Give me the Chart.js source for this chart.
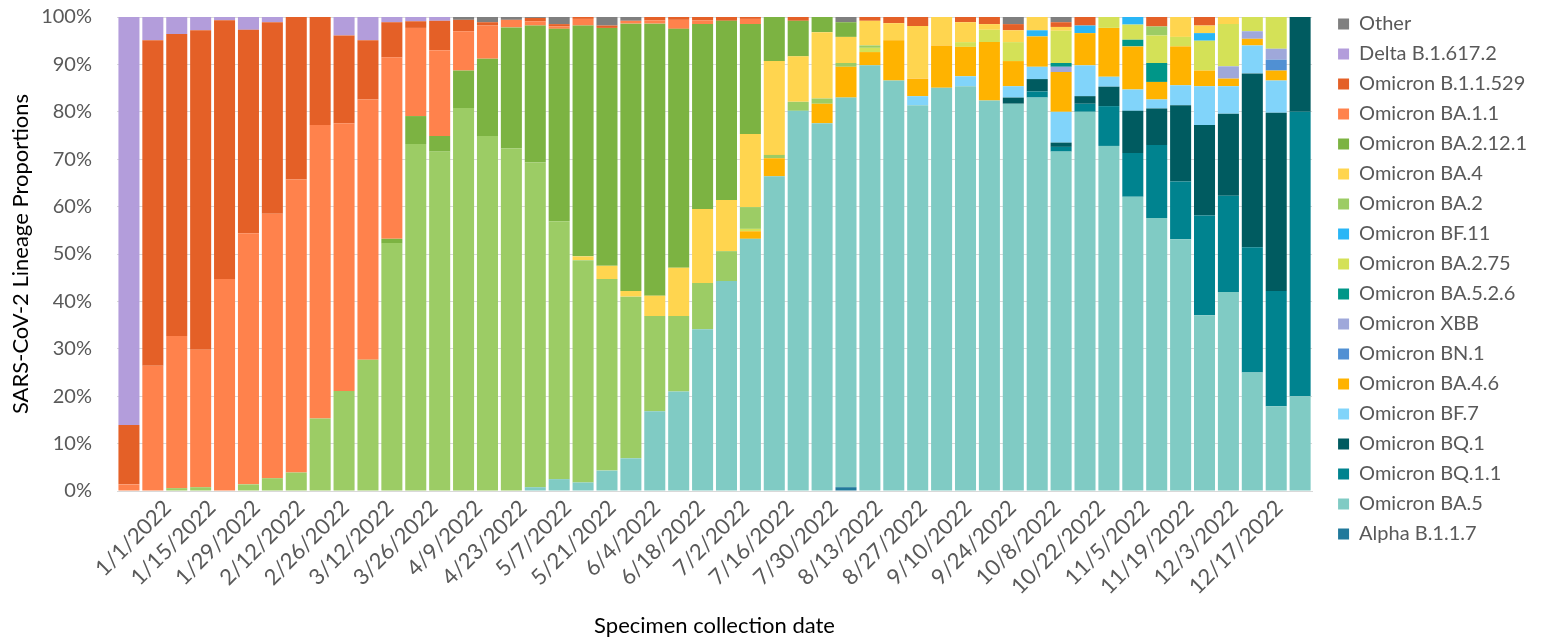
<!DOCTYPE html>
<html>
<head>
<meta charset="utf-8">
<script src="https://cdn.jsdelivr.net/npm/chart.js@4.4.1/dist/chart.umd.min.js"></script>
<style>
  html, body { margin: 0; padding: 0; background: #fff; }
  #wrap { position: relative; width: 1545px; height: 641px; }
</style>
</head>
<body>
<div id="wrap"><canvas id="lineageChart"></canvas></div>
<script>
// Weekly categories (one bar each)
const weeks = ['1/1/2022','1/8/2022','1/15/2022','1/22/2022','1/29/2022','2/5/2022','2/12/2022','2/19/2022','2/26/2022','3/5/2022',
  '3/12/2022','3/19/2022','3/26/2022','4/2/2022','4/9/2022','4/16/2022','4/23/2022','4/30/2022','5/7/2022','5/14/2022',
  '5/21/2022','5/28/2022','6/4/2022','6/11/2022','6/18/2022','6/25/2022','7/2/2022','7/9/2022','7/16/2022','7/23/2022',
  '7/30/2022','8/6/2022','8/13/2022','8/20/2022','8/27/2022','9/3/2022','9/10/2022','9/17/2022','9/24/2022','10/1/2022',
  '10/8/2022','10/15/2022','10/22/2022','10/29/2022','11/5/2022','11/12/2022','11/19/2022','11/26/2022','12/3/2022','12/10/2022'];

// Axis tick labels as printed under the chart
const tickLabels = ['1/1/2022','1/15/2022','1/29/2022','2/12/2022','2/26/2022','3/12/2022','3/26/2022','4/9/2022','4/23/2022',
  '5/7/2022','5/21/2022','6/4/2022','6/18/2022','7/2/2022','7/16/2022','7/30/2022','8/13/2022','8/27/2022','9/10/2022',
  '9/24/2022','10/8/2022','10/22/2022','11/5/2022','11/19/2022','12/3/2022','12/17/2022'];

// Lineage proportions (%), bottom of stack first
const alpha = [0,0,0,0,0,0,0,0,0,0, 0,0,0,0,0,0,0,0,0,0, 0,0,0,0,0,0,0,0,0,0, 0.8,0,0,0,0,0,0,0,0,0, 0,0,0,0,0,0,0,0,0,0];
const ba5 = [0,0,0,0,0,0,0,0,0,0, 0,0,0,0,0,0,0,0.8,2.5,1.8, 4.3,6.9,16.8,21.0,34.1,44.3,53.2,66.4,80.2,77.6,
  82.2,89.8,86.6,81.4,85.1,85.4,82.4,81.7,83.0,71.6, 80.0,72.8,62.1,57.6,53.1,37.1,42.0,25.0,17.9,20.0];
const bq11 = [0,0,0,0,0,0,0,0,0,0, 0,0,0,0,0,0,0,0,0,0, 0,0,0,0,0,0,0,0,0,0,
  0,0,0,0,0,0,0,0,1.3,1.0, 1.7,8.4,9.2,15.4,12.2,21.0,20.3,26.4,24.3,60.0];
const bq1 = [0,0,0,0,0,0,0,0,0,0, 0,0,0,0,0,0,0,0,0,0, 0,0,0,0,0,0,0,0,0,0,
  0,0,0,0,0,0,0,1.3,2.6,0.9, 1.6,4.1,8.9,7.7,16.1,19.1,17.3,36.7,37.6,20.0];
const bf7 = [0,0,0,0,0,0,0,0,0,0, 0,0,0,0,0,0,0,0,0,0, 0,0,0,0,0,0,0,0,0,0,
  0,0,0,1.9,0,2.1,0,2.4,2.6,6.5, 6.5,2.1,4.5,1.9,4.2,8.2,5.8,5.9,6.8,0];
const ba46 = [0,0,0,0,0,0,0,0,0,0, 0,0,0,0,0,0,0,0,0,0, 0,0,0,0,0,0,1.6,3.8,0,4.1,
  6.5,2.8,8.5,3.7,8.9,6.2,12.3,5.3,6.4,8.4, 6.8,10.3,9.1,3.7,8.2,3.3,1.6,1.4,2.1,0];
const bn1 = [0,0,0,0,0,0,0,0,0,0, 0,0,0,0,0,0,0,0,0,0, 0,0,0,0,0,0,0,0,0,0,
  0,0,0,0,0,0,0,0,0,0, 0,0,0,0,0,0,0,0,2.3,0];
const xbb = [0,0,0,0,0,0,0,0,0,0, 0,0,0,0,0,0,0,0,0,0, 0,0,0,0,0,0,0,0,0,0,
  0,0,0,0,0,0,0,0,0,1.1, 0,0,0,0,0,0,2.6,1.6,2.3,0];
const ba526 = [0,0,0,0,0,0,0,0,0,0, 0,0,0,0,0,0,0,0,0,0, 0,0,0,0,0,0,0,0,0,0,
  0,0,0,0,0,0,0,0,0,0.8, 0,0,1.4,4.0,0,0,0,0,0,0];
const ba275 = [0,0,0,0,0,0,0,0,0,0, 0,0,0,0,0,0,0,0,0,0, 0,0,0,0,0,0,0.5,0,0,0,
  0,0.9,0,0,0,1.0,2.6,4.0,0,6.8, 0,2.3,3.2,5.8,2.0,6.3,8.9,3.0,6.7,0];
const bf11 = [0,0,0,0,0,0,0,0,0,0, 0,0,0,0,0,0,0,0,0,0, 0,0,0,0,0,0,0,0,0,0,
  0,0,0,0,0,0,0,0,1.3,0, 1.6,0,1.6,0,0,1.6,0,0,0,0];
const ba2 = [0,0,0.6,0.8,0,1.4,2.7,3.9,15.3,21.1, 27.7,52.3,73.2,71.6,80.8,74.9,72.3,68.5,54.4,46.9,
  40.4,34.1,20.1,15.9,9.8,6.3,4.6,0.7,1.9,1.1, 0.8,0.5,0,0,0,0,0,0,0,0, 0,0,0,1.9,0,0,0,0,0,0];
const ba4 = [0,0,0,0,0,0,0,0,0,0, 0,0,0,0,0,0,0,0,0,0.8, 2.8,1.2,4.3,10.2,15.6,10.8,15.4,19.8,9.6,14.0,
  5.5,5.2,3.6,11.1,6.0,4.2,1.2,2.5,2.8,0.8, 0,0,0,0,4.2,1.6,1.5,0,0,0];
const ba2121 = [0,0,0,0,0,0,0,0,0,0, 0,0.9,5.9,3.3,7.9,16.3,25.5,28.9,40.6,48.7, 50.2,56.4,57.4,50.4,39.0,37.8,23.2,9.3,7.5,3.2,
  3.1,0,0,0,0,0,0,0,0,0, 0,0,0,0,0,0,0,0,0,0];
const ba11 = [1.4,26.4,32.1,29.0,44.7,53.0,55.8,61.8,61.9,56.5, 54.9,38.3,18.6,18.1,8.3,7.0,1.6,0.9,0.5,1.4,
  0,0.6,0.7,1.9,0.8,0,1.1,0,0,0, 0,0,0,0,0,0,0,0,0,0, 0,0,0,0,0,0,0,0,0,0];
const b11529 = [12.5,68.7,63.7,67.4,54.6,42.9,40.4,34.3,22.8,18.5, 12.5,7.4,1.4,6.2,2.4,0.7,0,0.7,0.5,0.4,
  0.5,0,0.7,0.6,0.7,0.8,0.4,0,0.8,0, 0,0.8,1.3,1.9,0,1.1,1.5,1.3,0,1.0, 1.8,0,0,2.0,0,1.8,0,0,0,0];
const delta = [86.1,4.9,3.6,2.8,0.7,2.7,1.1,0,0,3.9, 4.9,1.1,0.9,0.8,0,0,0,0,0,0,
  0,0,0,0,0,0,0,0,0,0, 0,0,0,0,0,0,0,0,0,0, 0,0,0,0,0,0,0,0,0,0];
const other = [0,0,0,0,0,0,0,0,0,0, 0,0,0,0,0.6,1.1,0.6,0.2,1.5,0, 1.8,0.8,0,0,0,0,0,0,0,0,
  1.1,0,0,0,0,0,0,1.5,0,1.1, 0,0,0,0,0,0,0,0,0,0];

// Series names and colours (stack order, bottom first)
const lineages = [
  ['Alpha B.1.1.7', alpha, '#21799b'],
  ['Omicron BA.5', ba5, '#80cbc4'],
  ['Omicron BQ.1.1', bq11, '#00838f'],
  ['Omicron BQ.1', bq1, '#005b60'],
  ['Omicron BF.7', bf7, '#81d4fa'],
  ['Omicron BA.4.6', ba46, '#ffb300'],
  ['Omicron BN.1', bn1, '#5090d3'],
  ['Omicron XBB', xbb, '#9fa8da'],
  ['Omicron BA.5.2.6', ba526, '#009688'],
  ['Omicron BA.2.75', ba275, '#d4e157'],
  ['Omicron BF.11', bf11, '#29b6f6'],
  ['Omicron BA.2', ba2, '#9ccc65'],
  ['Omicron BA.4', ba4, '#ffd54f'],
  ['Omicron BA.2.12.1', ba2121, '#7cb342'],
  ['Omicron BA.1.1', ba11, '#ff824c'],
  ['Omicron B.1.1.529', b11529, '#e46027'],
  ['Delta B.1.617.2', delta, '#b39ddb'],
  ['Other', other, '#7f7f7f']
];

const fontFamily = "Lato, 'Liberation Sans', sans-serif";
const grey = '#595959';

const ctx = document.getElementById('lineageChart').getContext('2d');

const lineageChart = new Chart(ctx, {
  type: 'bar',
  data: {
    labels: weeks,
    datasets: lineages.map(([name, values, color]) => ({
      label: name,
      data: values,
      backgroundColor: color,
      borderWidth: 0,
      categoryPercentage: 1,
      barPercentage: 0.88
    }))
  },
  options: {
    responsive: true,
    maintainAspectRatio: false,
    animation: false,
    layout: {
      padding: { left: 0, right: 8, top: 4, bottom: 2 }
    },
    plugins: {
      tooltip: { enabled: false },
      legend: {
        position: 'right',
        align: 'start',
        reverse: true,
        labels: {
          boxWidth: 11,
          boxHeight: 11,
          padding: 10,
          color: grey,
          font: { size: 20, family: fontFamily }
        }
      }
    },
    scales: {
      x: {
        stacked: true,
        ticks: { display: false },
        grid: { display: false },
        border: { display: true, color: '#d9d9d9' },
        afterFit: scale => { scale.height = 0; }
      },
      // separate axis for the biweekly date labels
      x2: {
        type: 'linear',
        position: 'bottom',
        min: -0.62,
        max: 25.22,
        afterBuildTicks: scale => { scale.ticks = tickLabels.map((_, i) => ({ value: i })); },
        afterFit: scale => { scale.height = 148; },
        grid: { display: false, drawTicks: false },
        border: { display: false },
        ticks: {
          autoSkip: false,
          minRotation: 45,
          maxRotation: 45,
          padding: 4,
          color: grey,
          font: { size: 22, family: fontFamily },
          callback: value => tickLabels[value]
        },
        title: {
          display: true,
          text: 'Specimen collection date',
          color: '#000',
          font: { size: 22, family: fontFamily },
          padding: { top: 0, bottom: 0 }
        }
      },
      y: {
        stacked: true,
        min: 0,
        max: 100,
        afterFit: scale => { scale.width = 117; },
        ticks: {
          stepSize: 10,
          padding: 5,
          color: grey,
          font: { size: 20, family: fontFamily },
          callback: value => value + '%'
        },
        // invisible tick marks push the labels away from the bars
        grid: { color: '#d9d9d9', drawTicks: true, tickLength: 20, tickColor: 'rgba(0,0,0,0)' },
        border: { display: false },
        title: {
          display: true,
          text: 'SARS-CoV-2 Lineage Proportions',
          color: '#000',
          font: { size: 22, family: fontFamily },
          padding: { top: 8, bottom: 0 }
        }
      },
      // empty right axis, keeps a gap between the bars and the legend
      gap: {
        position: 'right',
        display: true,
        ticks: { display: false },
        grid: { display: false },
        border: { display: false },
        afterFit: scale => { scale.width = 16; }
      }
    }
  }
});
</script>
</body>
</html>
